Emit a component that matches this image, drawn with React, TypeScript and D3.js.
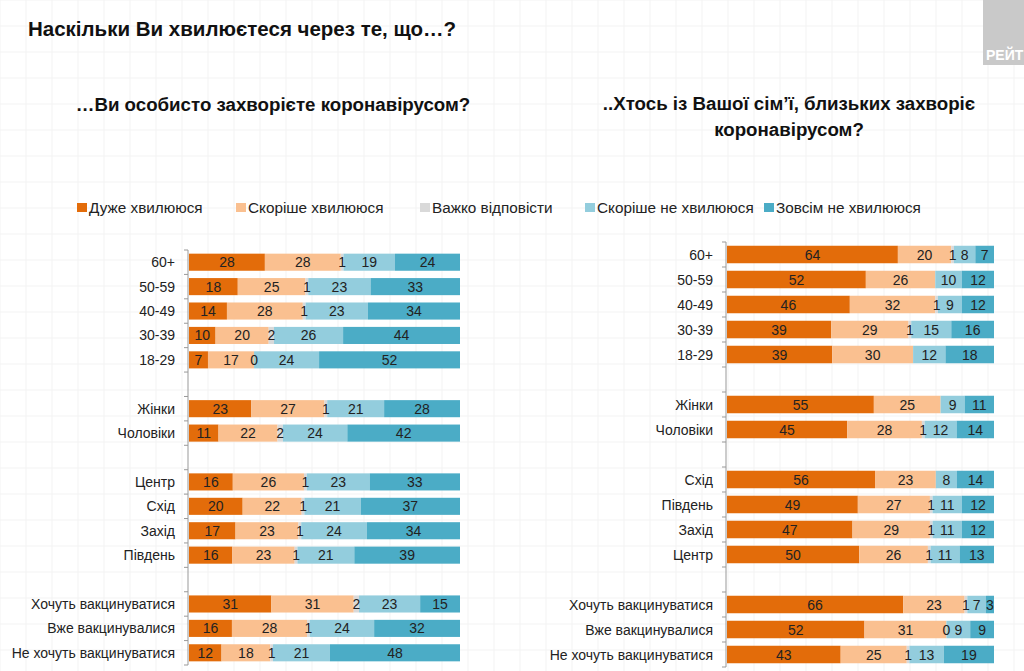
import React from "react";
import * as d3 from "d3";

const seriesNames = ["Дуже хвилююся", "Скоріше хвилююся", "Важко відповісти", "Скоріше не хвилююся", "Зовсім не хвилююся"];
const seriesColors = ["#E36C0A", "#FAC090", "#D9D9D9", "#93CDDD", "#4BACC6"];

// null = spacer row
const leftCategories = ["60+", "50-59", "40-49", "30-39", "18-29", null, "Жінки", "Чоловіки", null, "Центр", "Схід", "Захід", "Південь", null, "Хочуть вакцинуватися", "Вже вакцинувалися", "Не хочуть вакцинуватися"];
const leftVery = [28, 18, 14, 10, 7, null, 23, 11, null, 16, 20, 17, 16, null, 31, 16, 12];
const leftRather = [28, 25, 28, 20, 17, null, 27, 22, null, 26, 22, 23, 23, null, 31, 28, 18];
const leftHard = [1, 1, 1, 2, 0, null, 1, 2, null, 1, 1, 1, 1, null, 2, 1, 1];
const leftRatherNot = [19, 23, 23, 26, 24, null, 21, 24, null, 23, 21, 24, 21, null, 23, 24, 21];
const leftNot = [24, 33, 34, 44, 52, null, 28, 42, null, 33, 37, 34, 39, null, 15, 32, 48];

const rightCategories = ["60+", "50-59", "40-49", "30-39", "18-29", null, "Жінки", "Чоловіки", null, "Схід", "Південь", "Захід", "Центр", null, "Хочуть вакцинуватися", "Вже вакцинувалися", "Не хочуть вакцинуватися"];
const rightVery = [64, 52, 46, 39, 39, null, 55, 45, null, 56, 49, 47, 50, null, 66, 52, 43];
const rightRather = [20, 26, 32, 29, 30, null, 25, 28, null, 23, 27, 29, 26, null, 23, 31, 25];
const rightHard = [1, null, 1, 1, null, null, null, 1, null, null, 1, 1, 1, null, 1, 0, 1];
const rightRatherNot = [8, 10, 9, 15, 12, null, 9, 12, null, 8, 11, 11, 11, null, 7, 9, 13];
const rightNot = [7, 12, 12, 16, 18, null, 11, 14, null, 14, 12, 12, 13, null, 3, 9, 19];

const FONT = "'Liberation Sans', Arial, sans-serif";

type ChartProps = {
  categories: (string | null)[];
  series: (number | null)[][];
  x0: number;
  x1: number;
  yTop: number;
  yBottom: number;
};

function StackChart({ categories, series, x0, x1, yTop, yBottom }: ChartProps) {
  const idx = categories.map((_, i) => i);
  const y = d3.scaleBand<number>().domain(idx).range([yTop, yBottom]).paddingInner(0.3).paddingOuter(0.15);
  const step = y.step();
  const bw = y.bandwidth();
  const boundaries = d3.range(categories.length + 1).map((i) => yTop + i * step);
  return (
    <g>
      <line x1={x0 - 1} x2={x0 - 1} y1={yTop} y2={yBottom} stroke="#999" strokeWidth={1} />
      {boundaries.map((b, i) => (
        <line key={i} x1={x0 - 5} x2={x0 - 1} y1={b} y2={b} stroke="#999" strokeWidth={1} />
      ))}
      {categories.map((cat, i) => {
        if (cat === null) return null;
        const vals = series.map((s) => s[i]);
        const total = d3.sum(vals.map((v) => v ?? 0));
        const x = d3.scaleLinear().domain([0, total]).range([x0, x1]);
        const yy = y(i)!;
        const cy = yy + bw / 2;
        const starts: number[] = [];
        let acc = 0;
        vals.forEach((v) => {
          starts.push(acc);
          acc += v ?? 0;
        });
        return (
          <g key={i}>
            <text x={x0 - 14} y={cy} dy="0.36em" textAnchor="end" fontSize={14} fill="#222" fontFamily={FONT}>
              {cat}
            </text>
            {vals.map((v, k) =>
              v === null ? null : (
                <rect key={k} x={x(starts[k])} y={yy} width={x(starts[k] + v) - x(starts[k])} height={bw} fill={seriesColors[k]} />
              )
            )}
            {vals.map((v, k) =>
              v === null ? null : (
                <text key={"t" + k} x={(x(starts[k]) + x(starts[k] + v)) / 2} y={cy} dy="0.36em" textAnchor="middle" fontSize={14} fill="#222" fontFamily={FONT}>
                  {v}
                </text>
              )
            )}
          </g>
        );
      })}
    </g>
  );
}

export default function App() {
  const W = 1024;
  const H = 671;
  const gridX = d3.range(0, W, 26);
  const gridY = d3.range(0, H, 26);
  const legendX = [77, 236, 420, 585, 764];
  return (
    <svg width={W} height={H} style={{ position: "absolute", left: 0, top: 0, background: "#fff" }}>
      <rect width={W} height={H} fill="#ffffff" />
      {gridX.map((gx) => (
        <line key={"gx" + gx} x1={gx} x2={gx} y1={0} y2={H} stroke="#f3f3f3" strokeWidth={1} />
      ))}
      {gridY.map((gy) => (
        <line key={"gy" + gy} x1={0} x2={W} y1={gy} y2={gy} stroke="#f3f3f3" strokeWidth={1} />
      ))}
      <rect x={983} y={0} width={41} height={65} fill="#c9c9c9" />
      <text x={986} y={60} fontSize={14} fontWeight="bold" fill="#fff" fontFamily={FONT}>РЕЙТ</text>

      <text x={28} y={36} fontSize={20.5} fontWeight="bold" fill="#111" fontFamily={FONT}>
        Наскільки Ви хвилюєтеся через те, що…?
      </text>
      <text x={273} y={111} textAnchor="middle" fontSize={18.7} fontWeight="bold" fill="#111" fontFamily={FONT}>
        …Ви особисто захворієте коронавірусом?
      </text>
      <text x={789} y={110} textAnchor="middle" fontSize={18.7} fontWeight="bold" fill="#111" fontFamily={FONT}>
        ..Хтось із Вашої сім’ї, близьких захворіє
      </text>
      <text x={789} y={136} textAnchor="middle" fontSize={18.7} fontWeight="bold" fill="#111" fontFamily={FONT}>
        коронавірусом?
      </text>

      {seriesNames.map((name, k) => (
        <g key={name}>
          <rect x={legendX[k]} y={203} width={10} height={9} fill={seriesColors[k]} />
          <text x={legendX[k] + 12} y={207.5} dy="0.36em" fontSize={15.3} fill="#222" fontFamily={FONT}>
            {name}
          </text>
        </g>
      ))}

      <StackChart
        categories={leftCategories}
        series={[leftVery, leftRather, leftHard, leftRatherNot, leftNot]}
        x0={189}
        x1={460}
        yTop={250}
        yBottom={665}
      />
      <StackChart
        categories={rightCategories}
        series={[rightVery, rightRather, rightHard, rightRatherNot, rightNot]}
        x0={727}
        x1={994}
        yTop={242}
        yBottom={667}
      />
    </svg>
  );
}
